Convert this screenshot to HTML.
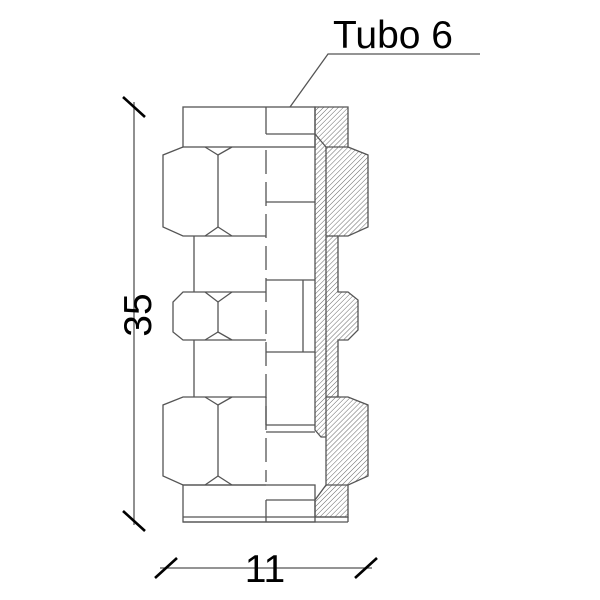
<!DOCTYPE html>
<html><head><style>body{margin:0;background:#fff}svg{display:block}</style></head>
<body>
<svg width="600" height="600" viewBox="0 0 600 600" xmlns="http://www.w3.org/2000/svg">
<defs>
<pattern id="h" patternUnits="userSpaceOnUse" width="3.5" height="3.5" patternTransform="rotate(45)">
<line x1="0" y1="0" x2="0" y2="3.5" stroke="#555" stroke-width="0.9"/>
</pattern>
</defs>
<g fill="none" stroke="#555" stroke-width="1.3">
<path d="M315,107 L348,107 L348,147 L368,155 L368,227 L348,236 L338,236 L338,292 L348,292 L358,300 L358,330 L348,340 L338,340 L338,397 L348,397 L368,405 L368,476 L348,485 L348,517 L315,517 L315,500 L326,485 L326,437 L321,437 L315,430 Z" fill="url(#h)"/>
<line x1="326" y1="147" x2="326" y2="437"/>
<line x1="315" y1="134" x2="326" y2="147"/>
<line x1="326" y1="147" x2="348" y2="147"/>
<line x1="326" y1="236" x2="338" y2="236"/>
<line x1="326" y1="397" x2="338" y2="397"/>
<line x1="326" y1="485" x2="348" y2="485"/>
<rect x="183" y="107" width="132" height="40"/>
<line x1="266" y1="107" x2="266" y2="134"/>
<line x1="266" y1="134" x2="315" y2="134"/>
<path d="M183,147 L163,155 L163,227 L183,236 L266,236"/>
<line x1="218" y1="155" x2="218" y2="227"/>
<path d="M205,147 L218,155 L232,147 M205,236 L218,227 L232,236"/>
<line x1="194" y1="236" x2="194" y2="292"/>
<line x1="266" y1="202" x2="315" y2="202"/>
<path d="M266,292 L183,292 L173,302 L173,332 L183,340 L266,340"/>
<line x1="218" y1="302" x2="218" y2="332"/>
<path d="M205,292 L218,302 L232,292 M205,340 L218,332 L232,340"/>
<line x1="266" y1="280" x2="315" y2="280"/>
<line x1="303" y1="280" x2="303" y2="352"/>
<line x1="266" y1="352" x2="315" y2="352"/>
<line x1="194" y1="340" x2="194" y2="397"/>
<path d="M266,397 L183,397 L163,405 L163,476 L183,485 L266,485"/>
<line x1="218" y1="405" x2="218" y2="476"/>
<path d="M205,397 L218,405 L232,397 M205,485 L218,476 L232,485"/>
<line x1="266" y1="397" x2="266" y2="425"/>
<line x1="266" y1="425" x2="315" y2="425"/>
<line x1="266" y1="432" x2="315" y2="432"/>
<rect x="183" y="485" width="132" height="37"/>
<line x1="183" y1="517" x2="348" y2="517"/>
<line x1="183" y1="522" x2="348" y2="522"/>
<line x1="348" y1="517" x2="348" y2="522"/>
<line x1="266" y1="500" x2="315" y2="500"/>
<line x1="266" y1="500" x2="266" y2="522"/>
<line x1="266" y1="150" x2="266" y2="482" stroke-dasharray="24,8"/>
<polyline points="290,107 328,54 480,54"/>
<line x1="134" y1="102" x2="134" y2="525"/>
<line x1="160" y1="568" x2="372" y2="568"/>
</g>
<g stroke="#000" stroke-width="2.6">
<line x1="123" y1="97" x2="145" y2="117"/>
<line x1="123" y1="511" x2="145" y2="531"/>
<line x1="155" y1="578" x2="177" y2="558"/>
<line x1="355" y1="578" x2="377" y2="558"/>
</g>
<g font-family="Liberation Sans, sans-serif" font-size="39" fill="#000">
<text x="333" y="48">Tubo 6</text>
<text x="265" y="582" text-anchor="middle">11</text>
<text transform="translate(151,315) rotate(-90)" text-anchor="middle">35</text>
</g>
</svg>
</body></html>
